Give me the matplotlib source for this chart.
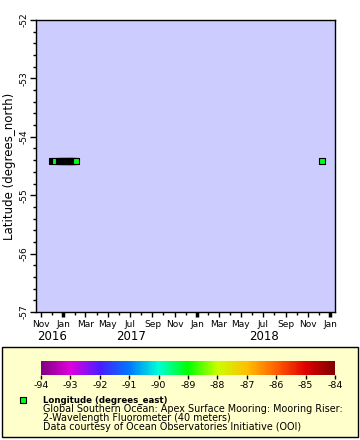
import matplotlib
matplotlib.use("Agg")
import matplotlib.pyplot as plt
import matplotlib.dates as mdates
import matplotlib.colors as mcolors
import matplotlib.patches as mpatches
import numpy as np
import pandas as pd

plt.rcParams["axes.unicode_minus"] = False

# data: observation times, latitude, longitude (nan = no longitude value, drawn black)
times = pd.to_datetime([
    "2015-12-01", "2015-12-09", "2015-12-20", "2015-12-23", "2015-12-26",
    "2015-12-29", "2016-01-01", "2016-01-04", "2016-01-07", "2016-01-10",
    "2016-01-13", "2016-01-16", "2016-01-19", "2016-01-22", "2016-01-25",
    "2016-01-28", "2016-01-31", "2016-02-04", "2017-12-09",
])
lat = [-54.41] * len(times)
lon = [np.nan, -89.1, np.nan, np.nan, np.nan, np.nan, np.nan, np.nan, np.nan,
       np.nan, np.nan, np.nan, np.nan, np.nan, np.nan, np.nan, np.nan, -89.1, -89.1]

lat_ticks = [-57, -56, -55, -54, -53, -52]
cbar_ticks = [-94, -93, -92, -91, -90, -89, -88, -87, -86, -85, -84]
year_labels = ["2016", "2017", "2018"]
year_label_dates = pd.to_datetime(["2015-12-01", "2016-07-04", "2017-07-04"])
x_start, x_end = pd.Timestamp("2015-10-18"), pd.Timestamp("2018-01-14")

legend_title = "Longitude (degrees_east)"
legend_lines = [
    "Global Southern Ocean: Apex Surface Mooring: Mooring Riser:",
    "2-Wavelength Fluorometer (40 meters)",
    "Data courtesy of Ocean Observatories Initiative (OOI)",
]

# rainbow palette like ERDDAP
pal = ["#800080", "#e000e0", "#4a1cff", "#0078ff", "#00ffd8", "#00ff00",
       "#c8ff00", "#ffc000", "#ff6000", "#e00000", "#800000"]
cmap = mcolors.LinearSegmentedColormap.from_list("rainbow2", pal)
cmap.set_bad("black")
norm = mcolors.Normalize(vmin=-94, vmax=-84)

W, H = 360, 440
fig = plt.figure(figsize=(W / 100, H / 100), dpi=100)

def box(x0, y0, x1, y1):
    return [x0 / W, 1 - y1 / H, (x1 - x0) / W, (y1 - y0) / H]

# legend panel (behind the colorbar)
fig.patches.append(mpatches.Rectangle((1.5 / W, 1 - 437 / H), 356 / W, 90 / H,
                                      transform=fig.transFigure, facecolor="#ffffcc",
                                      edgecolor="black", linewidth=1, zorder=-5))

ax = fig.add_axes(box(36, 20, 335, 312))
ax.set_facecolor("#ccccff")
ax.scatter(times, lat, c=lon, cmap=cmap, norm=norm, marker="s", s=18,
           edgecolors="black", linewidths=0.8, zorder=3, plotnonfinite=True)

ax.set_ylim(-57, -52)
ax.set_yticks(lat_ticks)
ax.set_yticklabels([str(v) for v in lat_ticks], rotation=90, va="center", fontsize=6.5)
ax.yaxis.set_minor_locator(matplotlib.ticker.MultipleLocator(0.2))
ax.tick_params(axis="y", which="major", length=4, width=1, pad=1)
ax.tick_params(axis="y", which="minor", length=2.5, width=1)
ax.set_ylabel("Latitude (degrees_north)", fontsize=8.5, labelpad=3)

ax.set_xlim(x_start, x_end)
ax.xaxis.set_major_locator(mdates.MonthLocator(bymonth=[1, 3, 5, 7, 9, 11]))
ax.xaxis.set_major_formatter(mdates.DateFormatter("%b"))
ax.xaxis.set_minor_locator(mdates.MonthLocator(bymonth=[2, 4, 6, 8, 10, 12]))
ax.tick_params(axis="x", which="major", length=3.5, width=1, labelsize=6.5, pad=2)
ax.tick_params(axis="x", which="minor", length=2.5, width=1)
for loc, tick in zip(ax.get_xticks(), ax.xaxis.get_major_ticks()):
    if mdates.num2date(loc).month == 1:
        tick.tick1line.set_markeredgewidth(2.5)
for s in ax.spines.values():
    s.set_linewidth(1)

for lab, d in zip(year_labels, year_label_dates):
    ax.text(d, -0.085, lab, transform=ax.get_xaxis_transform(), ha="center",
            va="center", fontsize=8.5)

# colorbar
cax = fig.add_axes(box(41, 361, 335, 375))
cb = fig.colorbar(matplotlib.cm.ScalarMappable(norm=norm, cmap=cmap), cax=cax,
                  orientation="horizontal", ticks=cbar_ticks)
cb.outline.set_visible(False)
cax.tick_params(length=3, width=1, labelsize=6.8, pad=1.5)

# legend entry
fig.patches.append(mpatches.Rectangle((19.5 / W, 1 - 403 / H), 6 / W, 6 / H,
                                      transform=fig.transFigure,
                                      facecolor=cmap(norm(-89.1)),
                                      edgecolor="black", linewidth=0.8))
fig.text(43 / W, 1 - 400 / H, legend_title, fontsize=6.2, fontweight="bold", va="center")
for i, line in enumerate(legend_lines):
    fig.text(43 / W, 1 - (409 + 9 * i) / H, line, fontsize=6.9, va="center")

fig.savefig("out.png", dpi=100)
